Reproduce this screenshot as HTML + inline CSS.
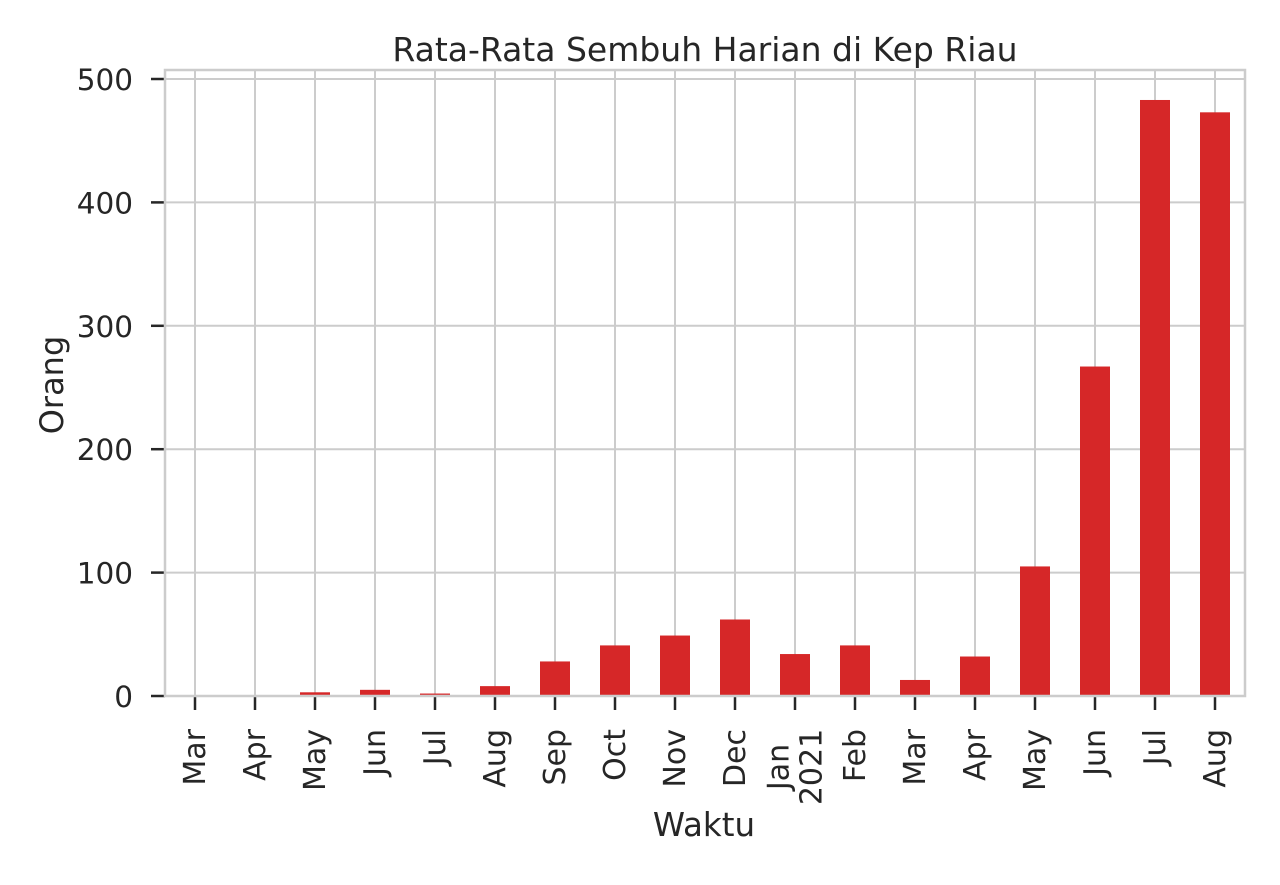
<!DOCTYPE html>
<html><head><meta charset="utf-8"><style>
body{margin:0;background:#fff;}
svg text{font-family:"DejaVu Sans","Liberation Sans",sans-serif;fill:#262626;}
</style></head><body>
<svg id="chart" width="1280" height="880" xmlns="http://www.w3.org/2000/svg">
<text x="705" y="61" font-size="33" text-anchor="middle">Rata-Rata Sembuh Harian di Kep Riau</text>
<text x="704" y="836" font-size="32.5" text-anchor="middle">Waktu</text>
<text transform="translate(63,385) rotate(-90)" font-size="32" text-anchor="middle">Orang</text>
<g id="grid"></g><g id="bars"></g><g id="axes"></g>
</svg>
<script>
const categories=["Mar","Apr","May","Jun","Jul","Aug","Sep","Oct","Nov","Dec","Jan\n2021","Feb","Mar","Apr","May","Jun","Jul","Aug"];
const values=[0,0,3,5,2,8,28,41,49,62,34,41,13,32,105,267,483,473];
const yTicks=[0,100,200,300,400,500];
const NS="http://www.w3.org/2000/svg";
const L=165,R=1245,T=70,B=696;
const y=v=>B-v*(B-79)/500;
const x=i=>195+i*60;
function mk(tag,attrs,parent){const e=document.createElementNS(NS,tag);for(const k in attrs)e.setAttribute(k,attrs[k]);parent.appendChild(e);return e;}
const g=document.getElementById('grid'),b=document.getElementById('bars'),a=document.getElementById('axes');
yTicks.forEach(v=>{
 const ln=mk('line',{x1:L,x2:R,y1:y(v),y2:y(v),stroke:'#cccccc','stroke-width':2},g);
 
 
 const tk=mk('line',{x1:151,x2:L,y1:y(v),y2:y(v),stroke:'#262626','stroke-width':2.5},a);
 
 
 const t=mk('text',{x:133,y:y(v)+11,'font-size':29.5,'text-anchor':'end'},a);t.textContent=v;
 
 
});
categories.forEach((c,i)=>{
 const ln=mk('line',{x1:x(i),x2:x(i),y1:T,y2:B,stroke:'#cccccc','stroke-width':2},g);
 
 
 const r=mk('rect',{x:x(i)-15,y:y(values[i]),width:30,height:B-y(values[i]),fill:'#d62728'},b);
 
 
 const tk=mk('line',{x1:x(i),x2:x(i),y1:B,y2:710,stroke:'#262626','stroke-width':2.5},a);
 
 
 const lines=c.split('\n');
 lines.forEach((s,j)=>{
  const multi=lines.length>1;
  const off=(j-(lines.length-1)/2)*33;
  const ty=multi?767:729;
  const t=mk('text',{transform:`translate(${x(i)+10+off},${ty}) rotate(-90)`,'font-size':30,'text-anchor':multi?'middle':'end'},a);
  t.textContent=s;
  
  
 });
});
const fr=mk('rect',{x:L,y:T,width:R-L,height:B-T,fill:'none',stroke:'#cccccc','stroke-width':2.5},a);


</script>
</body></html>
